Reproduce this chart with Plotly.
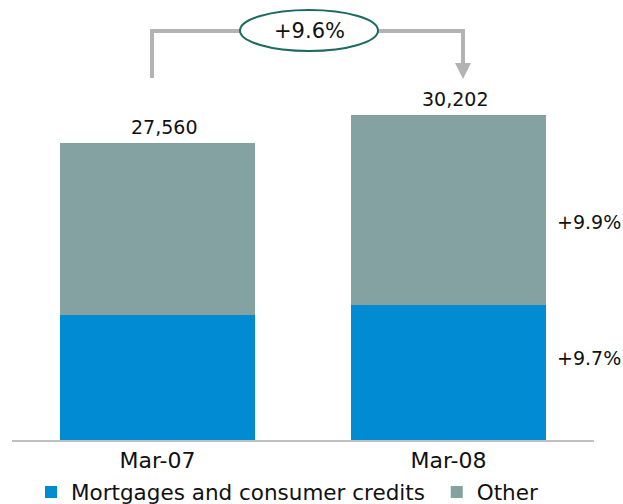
import plotly.graph_objects as go

categories = ["Mar-07", "Mar-08"]
mortgages = [11610, 12540]
other = [15950, 17662]
totals = [27560, 30202]
total_labels = ["27,560", "30,202"]
growth_labels = ["+9.7%", "+9.9%"]
total_growth = "+9.6%"
series_names = ["Mortgages and consumer credits\u00a0", "Other"]

BLUE = "#008bd2"
GRAY = "#84a2a2"
LINE = "#b3b3b3"
FONT = "DejaVu Sans"

W, H = 623, 504
ML, MR, MT, MB = 12, 29, 40, 64
YMAX = 37160

def px(x):
    return (x - ML) / (W - ML - MR)

def py(y):
    return (H - MB - y) / (H - MT - MB)

fig = go.Figure()
fig.add_trace(go.Bar(x=categories, y=mortgages, name=series_names[0],
                     marker=dict(color=BLUE, line=dict(width=0)), width=0.67))
fig.add_trace(go.Bar(x=categories, y=other, name=series_names[1],
                     marker=dict(color=GRAY, line=dict(width=0)), width=0.67))

annotations = []
for c, t, lab in zip(categories, totals, total_labels):
    annotations.append(dict(x=c, y=t, text=lab, showarrow=False, xref="x", yref="y",
                            yanchor="bottom", yshift=3, xshift=6,
                            font=dict(family=FONT, size=19, color="#111")))
annotations.append(dict(x=px(555), y=py(358), text=growth_labels[0], showarrow=False,
                        xref="paper", yref="paper", xanchor="left", yanchor="middle",
                        font=dict(family=FONT, size=19, color="#111")))
annotations.append(dict(x=px(555), y=py(222), text=growth_labels[1], showarrow=False,
                        xref="paper", yref="paper", xanchor="left", yanchor="middle",
                        font=dict(family=FONT, size=19, color="#111")))
annotations.append(dict(x=px(309), y=py(31), text=total_growth, showarrow=False,
                        xref="paper", yref="paper", xanchor="center", yanchor="middle",
                        font=dict(family=FONT, size=21, color="#111")))

shapes = [
    dict(type="path", xref="paper", yref="paper",
         path=f"M {px(152)},{py(78)} L {px(152)},{py(31)} L {px(240)},{py(31)}",
         line=dict(color=LINE, width=4)),
    dict(type="path", xref="paper", yref="paper",
         path=f"M {px(378)},{py(31)} L {px(463)},{py(31)} L {px(463)},{py(64)}",
         line=dict(color=LINE, width=4)),
    dict(type="path", xref="paper", yref="paper",
         path=f"M {px(455)},{py(63)} L {px(471)},{py(63)} L {px(463)},{py(79)} Z",
         fillcolor=LINE, line=dict(color=LINE, width=0)),
    dict(type="circle", xref="paper", yref="paper",
         x0=px(240), x1=px(378), y0=py(51), y1=py(10),
         fillcolor="white", line=dict(color="#1d6b60", width=2)),
]

fig.update_layout(
    width=W, height=H,
    margin=dict(l=ML, r=MR, t=MT, b=MB, autoexpand=False),
    barmode="stack",
    plot_bgcolor="white", paper_bgcolor="white",
    font=dict(family=FONT, size=19, color="#111"),
    showlegend=True,
    legend=dict(orientation="h", xref="container", yref="container",
                x=31 / W, y=(H - 492) / H, yanchor="middle", xanchor="left",
                font=dict(family=FONT, size=21.5), traceorder="normal",
                itemsizing="constant"),
    xaxis=dict(type="category", range=[-0.5, 1.5], showline=True, linecolor="#c0c0c0",
               linewidth=2, ticks="", showgrid=False, automargin=False,
               tickfont=dict(family=FONT, size=22)),
    yaxis=dict(range=[0, YMAX], visible=False, showgrid=False, automargin=False),
    annotations=annotations,
    shapes=shapes,
)

fig.write_html("out.html", config={"displayModeBar": False},
               post_script="document.body.style.margin='0';document.body.style.overflow='hidden';")
